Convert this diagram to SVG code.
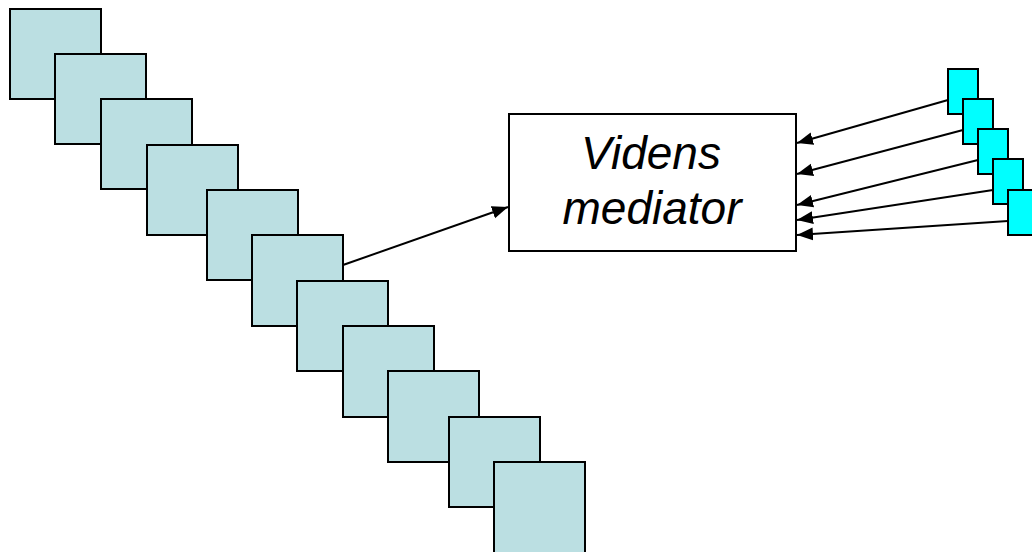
<svg xmlns="http://www.w3.org/2000/svg" width="1032" height="552" viewBox="0 0 1032 552">
<style>
.sq{fill:#bbdfe2;stroke:#000;stroke-width:2}
.cy{fill:#00ffff;stroke:#000;stroke-width:2}
.box{fill:#fff;stroke:#000;stroke-width:2}
.ln{stroke:#000;stroke-width:2;fill:none}
.t{font-family:"Liberation Sans",Arial,sans-serif;font-style:italic;font-size:46px;fill:#000;text-anchor:middle}
</style>
<defs>
<marker id="ah" viewBox="0 0 10 10" refX="10" refY="5" markerWidth="16" markerHeight="16" markerUnits="userSpaceOnUse" orient="auto">
<path d="M0,1 L10,5 L0,9 z" fill="#000"/>
</marker>
</defs>
<rect width="1032" height="552" fill="#fff"/>
<g id="left-stack">
<rect id="s1" class="sq" x="10" y="9" width="91" height="90"/>
<rect id="s2" class="sq" x="55" y="54" width="91" height="90"/>
<rect id="s3" class="sq" x="101" y="99" width="91" height="90"/>
<rect id="s4" class="sq" x="147" y="145" width="91" height="90"/>
<rect id="s5" class="sq" x="207" y="190" width="91" height="90"/>
<rect id="s6" class="sq" x="252" y="235" width="91" height="91"/>
<rect id="s7" class="sq" x="297" y="281" width="91" height="90"/>
<rect id="s8" class="sq" x="343" y="326" width="91" height="91"/>
<rect id="s9" class="sq" x="388" y="371" width="91" height="91"/>
<rect id="s10" class="sq" x="449" y="417" width="91" height="90"/>
<rect id="s11" class="sq" x="494" y="462" width="91" height="92"/>
</g>
<g id="mediator">
<rect class="box" x="509" y="114" width="287" height="137"/>
<text class="t" x="651" y="169">Videns</text>
<text class="t" x="652" y="224">mediator</text>
</g>
<g id="right-stack">
<rect id="c1" class="cy" x="948" y="69" width="30" height="45"/>
<rect id="c2" class="cy" x="963" y="99" width="30" height="45"/>
<rect id="c3" class="cy" x="978" y="129" width="30" height="45"/>
<rect id="c4" class="cy" x="993" y="159" width="30" height="45"/>
<rect id="c5" class="cy" x="1008" y="190" width="30" height="45"/>
</g>
<g id="connectors">
<line class="ln" x1="343" y1="265" x2="508" y2="207" marker-end="url(#ah)"/>
<line class="ln" x1="948" y1="100" x2="797" y2="143" marker-end="url(#ah)"/>
<line class="ln" x1="963" y1="130" x2="797" y2="174" marker-end="url(#ah)"/>
<line class="ln" x1="978" y1="160" x2="797" y2="205" marker-end="url(#ah)"/>
<line class="ln" x1="993" y1="190" x2="797" y2="220" marker-end="url(#ah)"/>
<line class="ln" x1="1008" y1="221" x2="797" y2="235" marker-end="url(#ah)"/>
</g>
</svg>
